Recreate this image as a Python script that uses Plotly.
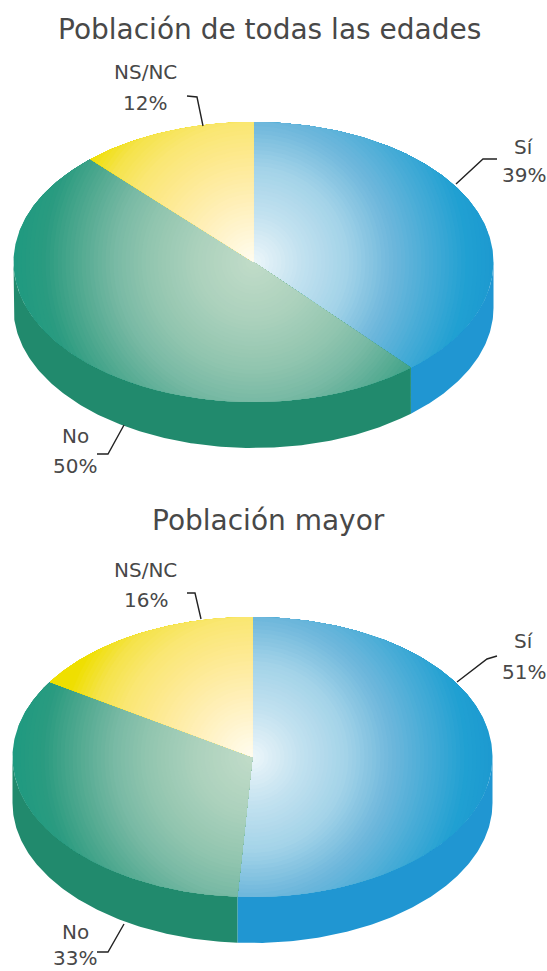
import math
import plotly.graph_objects as go

WIDTH = 547
HEIGHT = 971

CATEGORIES = ["Sí", "No", "NS/NC"]
VALUES_ALL = [39, 50, 12]
VALUES_OLD = [51, 33, 16]
TITLE_ALL = "Población de todas las edades"
TITLE_OLD = "Población mayor"

RX = 240
RY = 140
DEPTH = 46
RINGS = 60

# the shading is round, not elliptical: stops are distance from the middle / RX
STOPS = {
    "Sí": [(0.0, "#eef7fa"), (0.2, "#c4e2f0"), (0.4, "#a3d3e8"), (0.58, "#70b8dc"),
           (0.75, "#45abd6"), (0.9, "#20a0d2"), (1.0, "#1d9ad0")],
    "No": [(0.0, "#c2dcc9"), (0.25, "#abd1bc"), (0.45, "#91c5af"), (0.58, "#7abaa5"),
           (0.75, "#4ea88f"), (0.88, "#2a9b80"), (1.0, "#1f9a80")],
    "NS/NC": [(0.0, "#fffdf2"), (0.25, "#fff0bb"), (0.45, "#fde98f"), (0.58, "#fae773"),
              (0.7, "#f5e34a"), (0.82, "#efdf00"), (1.0, "#efdf00")],
}
SIDE = {"Sí": "#2096d2", "No": "#218a6d", "NS/NC": "#d8c800"}


def hex_rgb(c):
    return [int(c[i:i + 2], 16) for i in (1, 3, 5)]


def ramp(stops, t):
    for (t0, c0), (t1, c1) in zip(stops, stops[1:]):
        if t <= t1:
            f = (t - t0) / (t1 - t0)
            a, b = hex_rgb(c0), hex_rgb(c1)
            return "rgb({},{},{})".format(*[round(a[i] + (b[i] - a[i]) * f) for i in range(3)])
    return stops[-1][1]


def rim_point(cx, cy, deg, drop=0):
    # degrees run clockwise from twelve o'clock
    a = math.radians(deg)
    return cx + RX * math.sin(a), cy - RY * math.cos(a) + drop


def rim_arc(cx, cy, a0, a1, drop=0):
    n = max(2, int(abs(a1 - a0) * 1.5))
    return [rim_point(cx, cy, a0 + (a1 - a0) * i / n, drop) for i in range(n + 1)]


def disc_arc(cx, cy, a0, a1, radius):
    # rim points pulled in to a circle of the given radius, rays stay straight
    pts = []
    for x, y in rim_arc(cx, cy, a0, a1):
        dx, dy = x - cx, y - cy
        k = min(1, radius / math.hypot(dx, dy))
        pts.append((cx + dx * k, cy + dy * k))
    return pts


def polygon(fig, pts, color):
    fig.add_trace(go.Scatter(
        x=[p[0] for p in pts] + [pts[0][0]],
        y=[p[1] for p in pts] + [pts[0][1]],
        mode="lines",
        line=dict(width=0, color=color),
        fill="toself",
        fillcolor=color,
        hoverinfo="skip",
        showlegend=False,
    ))


def add_pie(fig, values, cx, cy):
    total = sum(values)
    start = 0
    slices = []
    for name, v in zip(CATEGORIES, values):
        end = start + 360 * v / total
        slices.append((name, start, end))
        start = end

    # side wall: only the front half of the rim shows
    for name, a0, a1 in slices:
        lo, hi = max(a0, 90), min(a1, 270)
        if lo < hi:
            polygon(fig, rim_arc(cx, cy, lo, hi) + rim_arc(cx, cy, lo, hi, DEPTH)[::-1], SIDE[name])

    # top face: painted from the rim inwards
    for name, a0, a1 in slices:
        for i in range(RINGS, 0, -1):
            t = i / RINGS
            polygon(fig, [(cx, cy)] + disc_arc(cx, cy, a0, a1, RX * t), ramp(STOPS[name], t))


def add_leader(fig, xs, ys):
    fig.add_trace(go.Scatter(
        x=xs, y=ys, mode="lines",
        line=dict(color="#222222", width=1.4),
        hoverinfo="skip", showlegend=False,
    ))


def add_text(fig, text, x, y, size=20):
    fig.add_annotation(
        x=x, y=y, xref="x", yref="y", text=text, showarrow=False,
        xanchor="center", yanchor="middle",
        font=dict(family="DejaVu Sans", size=size, color="#484848"),
    )


fig = go.Figure()

add_pie(fig, VALUES_ALL, 253.5, 262)
add_pie(fig, VALUES_OLD, 252.5, 757)

add_leader(fig, [187, 197, 203], [96, 97, 126])
add_leader(fig, [497, 483, 456], [159, 159, 184])
add_leader(fig, [97, 108, 124], [454, 454, 425])
add_leader(fig, [187, 195, 201], [593, 593, 619])
add_leader(fig, [497, 487, 457], [656, 659, 682])
add_leader(fig, [97, 108, 124], [952, 952, 924])

add_text(fig, TITLE_ALL, 269, 29, 28)
add_text(fig, TITLE_OLD, 268, 520, 28)

add_text(fig, CATEGORIES[2], 145, 72)
add_text(fig, "{}%".format(VALUES_ALL[2]), 145, 103)
add_text(fig, CATEGORIES[0], 524, 147)
add_text(fig, "{}%".format(VALUES_ALL[0]), 524, 175)
add_text(fig, CATEGORIES[1], 75, 436)
add_text(fig, "{}%".format(VALUES_ALL[1]), 75, 466)

add_text(fig, CATEGORIES[2], 145, 570)
add_text(fig, "{}%".format(VALUES_OLD[2]), 146, 600)
add_text(fig, CATEGORIES[0], 524, 641)
add_text(fig, "{}%".format(VALUES_OLD[0]), 524, 672)
add_text(fig, CATEGORIES[1], 75, 932)
add_text(fig, "{}%".format(VALUES_OLD[1]), 75, 958)

fig.update_layout(
    width=WIDTH,
    height=HEIGHT,
    margin=dict(l=0, r=0, t=0, b=0),
    paper_bgcolor="white",
    plot_bgcolor="white",
    showlegend=False,
)
fig.update_xaxes(range=[0, WIDTH], visible=False, fixedrange=True)
fig.update_yaxes(range=[HEIGHT, 0], visible=False, fixedrange=True)

fig.write_html("out.html", config={"displayModeBar": False},
               post_script="document.body.style.margin='0';")
